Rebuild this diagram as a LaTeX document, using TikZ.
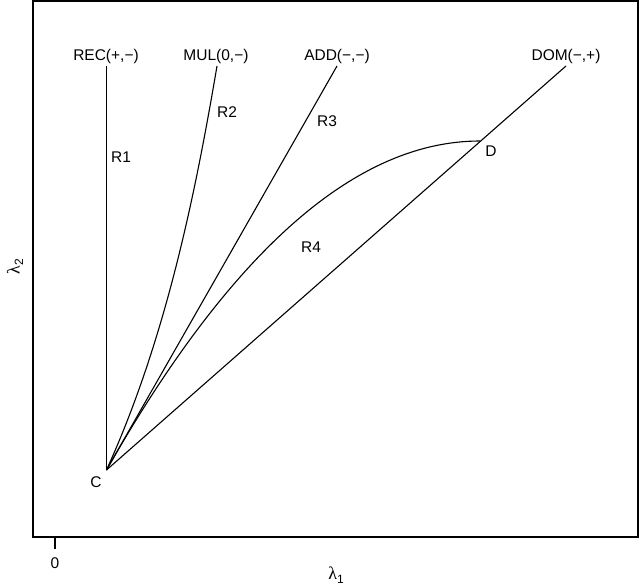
\documentclass[tikz,border=0pt]{standalone}
\usepackage{fontspec}
\setmainfont{Liberation Sans}
\newfontfamily\grk{Liberation Serif}
\newcommand{\lamsub}[1]{{\grk λ}\raisebox{-0.35ex}{\fontsize{12}{12}\selectfont #1}}
\begin{document}
\begin{tikzpicture}[x=1pt,y=-1pt,
  curve/.style={line width=1.1pt},
  lab/.style={font=\fontsize{15.5}{16}\selectfont, inner sep=0pt},
  axlab/.style={font=\fontsize{18}{18}\selectfont, inner sep=0pt}]
\useasboundingbox (0,0) rectangle (640,586);
\draw[line width=1.3pt] (33,1) rectangle (638,537);
% tick
\coordinate (t0) at (55,537);
\coordinate (t1) at (55,549);
\draw[line width=1.2pt] (t0) -- (t1);
\node[lab] (zero) at (55,563) {0};
\node[axlab] (l1) at (336,575) {\lamsub{1}};
\node[axlab, rotate=90] (l2) at (15,267) {\lamsub{2}};
% points
\coordinate (C) at (106.5,470);
\coordinate (D) at (480,141);
\coordinate (REC) at (106.5,66);
\coordinate (MUL) at (217,66);
\coordinate (ADD) at (337,66);
\coordinate (DOM) at (566,66);
\draw[curve] (C) -- (REC);
\draw[curve] (C) .. controls (165.5,340) and (195,196) .. (MUL);
\draw[curve] (C) -- (ADD);
\draw[curve] (C) -- (DOM);
\draw[curve] (C) .. controls (231.3,250.7) and (355.7,141) .. (D);
% labels
\node[lab] (lrec) at (106,56) {REC(+,−)};
\node[lab] (lmul) at (216,56) {MUL(0,−)};
\node[lab] (ladd) at (337,56) {ADD(−,−)};
\node[lab] (ldom) at (566,56) {DOM(−,+)};
\node[lab] (r1) at (121,157) {R1};
\node[lab] (r2) at (227,112) {R2};
\node[lab] (r3) at (327,121) {R3};
\node[lab] (r4) at (311,247) {R4};
\node[lab] (ld) at (491,151) {D};
\node[lab] (lc) at (96,482) {C};
\end{tikzpicture}
\end{document}
